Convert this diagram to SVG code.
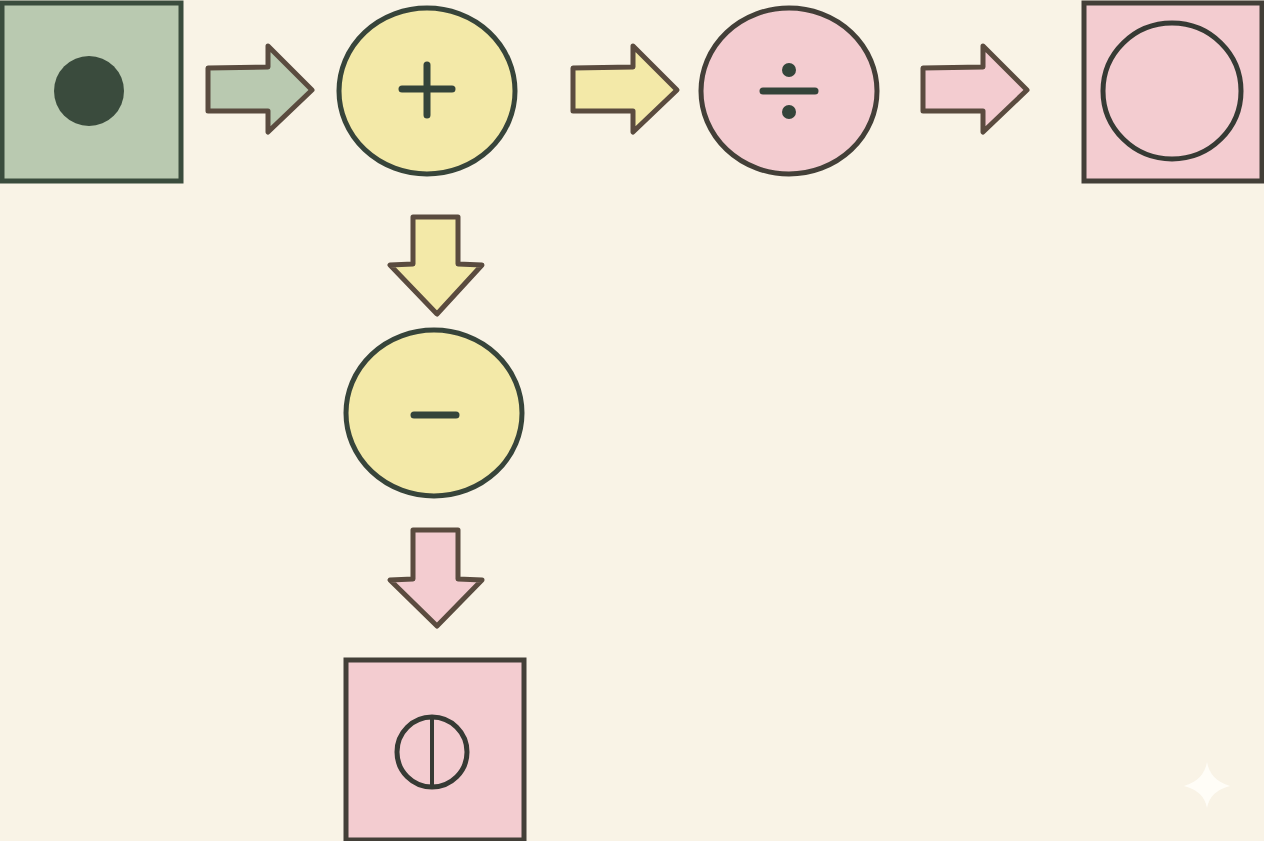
<svg xmlns="http://www.w3.org/2000/svg" width="1264" height="841" viewBox="0 0 1264 841">
<defs>
<style>
.bg{fill:#f9f3e6}
.green{fill:#b9c9b0;stroke:#3a4c3d;stroke-width:5}
.yellow{fill:#f3e9a8;stroke:#37443a;stroke-width:5}
.pink{fill:#f3ccd0;stroke:#433f38;stroke-width:5}
.arrow{stroke:#5a4b3f;stroke-width:5;stroke-linejoin:round}
.ag{fill:#b9c9b0}
.ay{fill:#f3e9a8}
.ap{fill:#f3ccd0}
.sym{stroke:#34443a;stroke-width:7;stroke-linecap:round;fill:none}
.dot{fill:#34443a}
.ring{fill:none;stroke:#363a34;stroke-width:5}
</style>
</defs>
<rect class="bg" x="0" y="0" width="1264" height="841"/>

<g id="connectors">
<path class="arrow ag" d="M208,68 L268,67 L268,46 L312,90 L268,132 L268,111 L208,111 Z"/>
<path class="arrow ay" d="M573,68 L633,67 L633,46 L677,90 L633,132 L633,111 L573,111 Z"/>
<path class="arrow ap" d="M923,68 L983,67 L983,46 L1027,90 L983,132 L983,111 L923,111 Z"/>
<path class="arrow ay" d="M413,217 L458,217 L458,264 L482,265 L437,314 L390,265 L413,264 Z"/>
<path class="arrow ap" d="M413,530 L458,530 L458,579 L482,580 L437,626 L390,580 L413,579 Z"/>
</g>

<g id="start">
<rect class="green" x="2" y="3" width="179" height="178"/>
<circle cx="89" cy="91" r="35" fill="#3a4b3d"/>
</g>

<g id="plus">
<ellipse class="yellow" cx="427" cy="91" rx="88" ry="83"/>
<line class="sym" x1="402" y1="89" x2="452" y2="89"/>
<line class="sym" x1="427" y1="65" x2="427" y2="115"/>
</g>

<g id="divide">
<ellipse class="pink" cx="789" cy="91" rx="88" ry="83" stroke="#34403a"/>
<line class="sym" x1="763" y1="91" x2="815" y2="91"/>
<circle class="dot" cx="789" cy="70" r="7"/>
<circle class="dot" cx="789" cy="112" r="7"/>
</g>

<g id="end-right">
<rect class="pink" x="1084" y="3" width="178" height="178"/>
<ellipse class="ring" cx="1172" cy="91" rx="69" ry="68"/>
</g>

<g id="minus">
<ellipse class="yellow" cx="434" cy="413" rx="88" ry="83"/>
<line class="sym" x1="414" y1="415" x2="456" y2="415" stroke-width="8"/>
</g>

<g id="end-bottom">
<rect class="pink" x="346" y="660" width="178" height="180"/>
<circle class="ring" cx="432" cy="752" r="35"/>
<line x1="432" y1="717" x2="432" y2="787" stroke="#363a34" stroke-width="4"/>
</g>

<path d="M1207,762 Q1210,780 1230,786 Q1210,791 1207,808 Q1204,791 1184,786 Q1204,780 1207,762 Z" fill="#fffdf7"/>
</svg>
